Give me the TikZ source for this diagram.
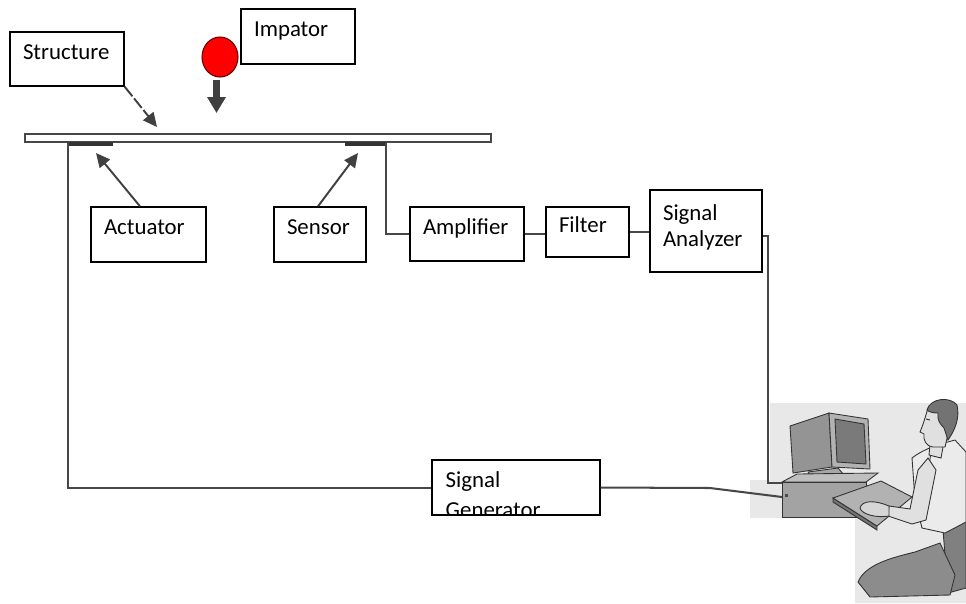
\documentclass[tikz,border=0pt]{standalone}
\usepackage{fontspec}
\setmainfont{Carlito}
\usetikzlibrary{arrows.meta,shapes.geometric}

\begin{document}
\begin{tikzpicture}[x=0.02cm, y=-0.02cm,
  box/.style={draw, line width=0.8pt, fill=white, inner xsep=0.26cm, inner ysep=0pt,
    align=left, font=\fontsize{13}{15.3}\selectfont},
  wire/.style={draw=black!72, line width=1.15pt},
  pointer/.style={draw=black!75, line width=1.1pt, -{Triangle[length=8pt, width=7.5pt]}},
  patch/.style={fill=black!80},
  pc/.style={draw=black!80, line width=0.5pt}]
\useasboundingbox (0,0) rectangle (966,603);

% beam with actuator and sensor patches
\draw[line width=1.3pt, draw=black!72, fill=white] (25,134) rectangle (491,142);
\fill[patch] (69,142) rectangle (113,146);
\fill[patch] (345,142) rectangle (386,146);
\coordinate (actp) at (68,143);
\coordinate (senp) at (386,143);
\coordinate (beamtop) at (157,127);
\coordinate (acttip) at (96,153);
\coordinate (sentip) at (358,153);
\coordinate (hit) at (216.5,113);

% boxes
\node[box, text width=1.76cm, text height=0.54cm, text depth=0.54cm] (str) at (67,59) {Structure};
\node[box, text width=1.76cm, text height=0.55cm, text depth=0.55cm] (imp) at (298,36.5) {Impator};
\node[box, text width=1.78cm, text height=0.55cm, text depth=0.55cm] (act) at (148.5,234.5) {Actuator};
\node[box, text width=1.32cm, text height=0.55cm, text depth=0.55cm] (sen) at (320,234.5) {Sensor};
\node[box, text width=1.76cm, text height=0.54cm, text depth=0.54cm] (amp) at (467,234) {Amplifier};
\node[box, text width=1.14cm, text height=0.50cm, text depth=0.50cm] (filt) at (587.5,232) {Filter};
\node[box, text width=1.72cm, text height=0.60cm, text depth=1.04cm] (ana) at (706,231) {Signal\\Analyzer};
\node[box, inner sep=0pt, minimum width=3.36cm, minimum height=1.1cm,
  path picture={\node[anchor=north west, inner sep=0pt, text width=2.8cm, align=left,
    text height=0.3cm, font=\fontsize{13}{15.3}\selectfont] (gentxt)
    at ([xshift=-0.02cm, yshift=-0.14cm]path picture bounding box.north west)
    {Signal\\[0.06cm]Generator};}] (gen) at (516,487.5) {};

% impactor
\node[ellipse, fill=red, draw=black!60!red, line width=0.6pt, inner sep=0pt,
  minimum width=0.72cm, minimum height=0.8cm] (ball) at (220,57) {};
\draw[draw=black!75, line width=4.5pt, -{Triangle[length=9pt, width=10pt]}]
  (hit |- ball.south) ++(0,2) -- (hit);

% pointers
\draw[pointer, dash pattern=on 7pt off 1.5pt] (str.south east) -- (beamtop);
\draw[pointer] ([xshift=-0.17cm]act.north) -- (acttip);
\draw[pointer] ([xshift=-0.04cm]sen.north) -- (sentip);

% computer and operator
\fill[black!9] (770,403) -- (966,403) -- (966,603) -- (855,603) -- (855,518)
  -- (750,518) -- (750,480) -- (770,480) -- cycle;
\coordinate (pcin) at (782,483);
\coordinate (pcin2) at (782,497);
\coordinate (kink) at (710,488);
% monitor
\filldraw[pc, fill=black!42] (790,426) -- (829,413) -- (832,467) -- (793,473) -- cycle;
\filldraw[pc, fill=black!30] (829,413) -- (868,419) -- (870,469) -- (832,467) -- cycle;
\filldraw[pc, fill=black!52] (835,419) -- (864,424) -- (866,464) -- (837,462) -- cycle;
\filldraw[pc, fill=black!35] (808,472) -- (838,468) -- (845,476) -- (812,480) -- cycle;
% case
\filldraw[pc, fill=black!25] (782,482) -- (797,474) -- (878,473) -- (866,482) -- cycle;
\filldraw[pc, fill=black!36] (782,482) rectangle (866,517);
\fill[black!70] (785,494) rectangle (788,497);
% keyboard tray
\filldraw[pc, fill=black!55] (833,498) -- (877,526) -- (877,530) -- (833,502) -- cycle;
\filldraw[pc, fill=black!30] (833,498) -- (881,481) -- (912,497) -- (877,526) -- cycle;
% chair and legs
\filldraw[pc, fill=black!50] (943,530) -- (966,518) -- (966,588) -- (948,593) -- cycle;
\filldraw[pc, fill=black!45] (858,582) .. controls (865,565) and (890,558) .. (915,552)
  -- (940,543) -- (955,575) -- (950,595) -- (870,597) -- cycle;
% torso and arm
\filldraw[pc, fill=black!8] (912,458) .. controls (925,448) and (940,444) .. (955,440)
  -- (966,452) -- (966,522) -- (945,533) -- (922,528) -- (915,500) -- cycle;
\draw[pc] (931,452) -- (924,500);
\filldraw[pc, fill=black!12] (928,458) -- (936,470) -- (926,520) -- (912,524) -- (888,516)
  -- (889,506) -- (910,509) -- (918,470) -- cycle;
\filldraw[pc, fill=black!16] (889,506) .. controls (875,500) and (862,500) .. (860,508)
  .. controls (862,515) and (878,518) .. (889,516) -- cycle;
% head
\filldraw[pc, fill=black!12] (930,444) -- (943,447) -- (941,458) -- (929,455) -- cycle;
\filldraw[pc, fill=black!12] (928,408) .. controls (925,418) and (923,425) .. (920,432)
  -- (924,434) .. controls (923,440) and (926,446) .. (933,447) -- (945,447)
  -- (950,425) -- (940,405) -- cycle;
\filldraw[pc, fill=black!55] (927,410) .. controls (930,398) and (950,396) .. (957,405)
  .. controls (960,418) and (955,430) .. (948,440) -- (944,428)
  .. controls (940,424) and (937,420) .. (938,413)
  .. controls (933,413) and (929,412) .. (927,410) -- cycle;
\draw[pc] (926,419) -- (930,420);

% wires
\draw[wire] (actp) |- (gen.west);
\draw[wire] (senp) |- (amp.west);
\draw[wire] (amp.east) -- (amp.east -| filt.west);
\draw[wire] (filt.east) -- (filt.east -| ana.west);
\draw[wire] ([yshift=-0.1cm]ana.east) -- ++(5,0) |- (pcin);
\draw[wire] (gen.east) -- (kink) -- (pcin2);
\end{tikzpicture}
\end{document}
